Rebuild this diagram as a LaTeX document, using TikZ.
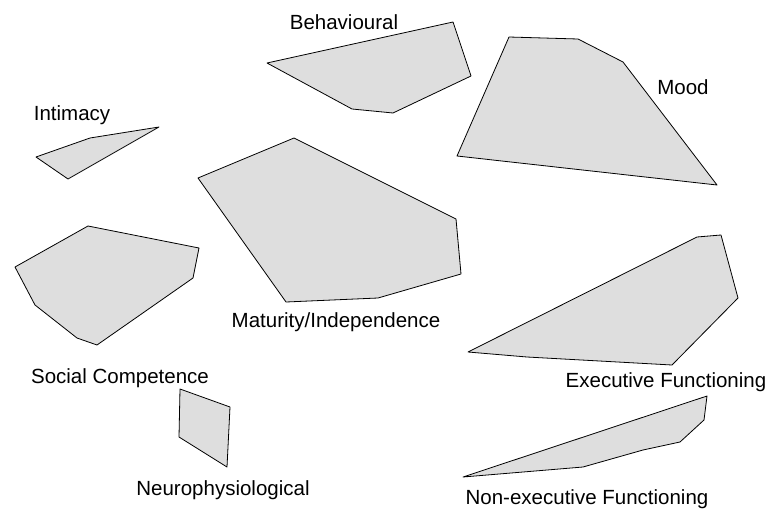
\documentclass[tikz,border=0pt]{standalone}
\usepackage{fontspec}
\setmainfont{Liberation Sans}

\begin{document}
\begin{tikzpicture}[x=1pt,y=-1pt,
  region/.style={draw=black,line width=0.8pt,fill=black!13,line join=round},
  lbl/.style={anchor=base,inner sep=0pt,font=\fontsize{20.5}{24}\selectfont}]
\useasboundingbox (0,0) rectangle (767,508);

%\draw[gray,step=50] (0,0) grid (767,508);
\draw[region] (267,63) -- (453,22) -- (471,76) -- (393,113) -- (352,109) -- cycle;
\draw[region] (509,37) -- (578,39) -- (623,62) -- (717,185) -- (457,156) -- cycle;
\draw[region] (36,157) -- (90,138) -- (159,127) -- (68,179) -- cycle;
\draw[region] (198,178) -- (294,138) -- (456,219) -- (461,274) -- (378,298) -- (286,302) -- cycle;
\draw[region] (15,267) -- (88,226) -- (199,248) -- (193,278) -- (97,345) -- (77,338) -- (35,305) -- cycle;
\draw[region] (468,352) -- (697,237) -- (721,235) -- (738,298) -- (672,365) -- (527,357) -- cycle;
\draw[region] (180,389) -- (230,407) -- (227,467) -- (179,437) -- cycle;
\draw[region] (463,477) -- (707,396) -- (704,420) -- (680,442) -- (643,450) -- (583,467) -- cycle;

\node[lbl] (behav) at (344,30)  {Behavioural};
\node[lbl] (mood)  at (683,95)  {Mood};
\node[lbl] (intim) at (72,121)  {Intimacy};
\node[lbl] (matur) at (336,327) {Maturity/Independence};
\node[lbl] (socc)  at (120,383) {Social Competence};
\node[lbl] (exec)  at (666,387) {Executive Functioning};
\node[lbl] (neuro) at (223,495) {Neurophysiological};
\node[lbl] (nexec) at (587,504) {Non-executive Functioning};
\end{tikzpicture}
\end{document}
